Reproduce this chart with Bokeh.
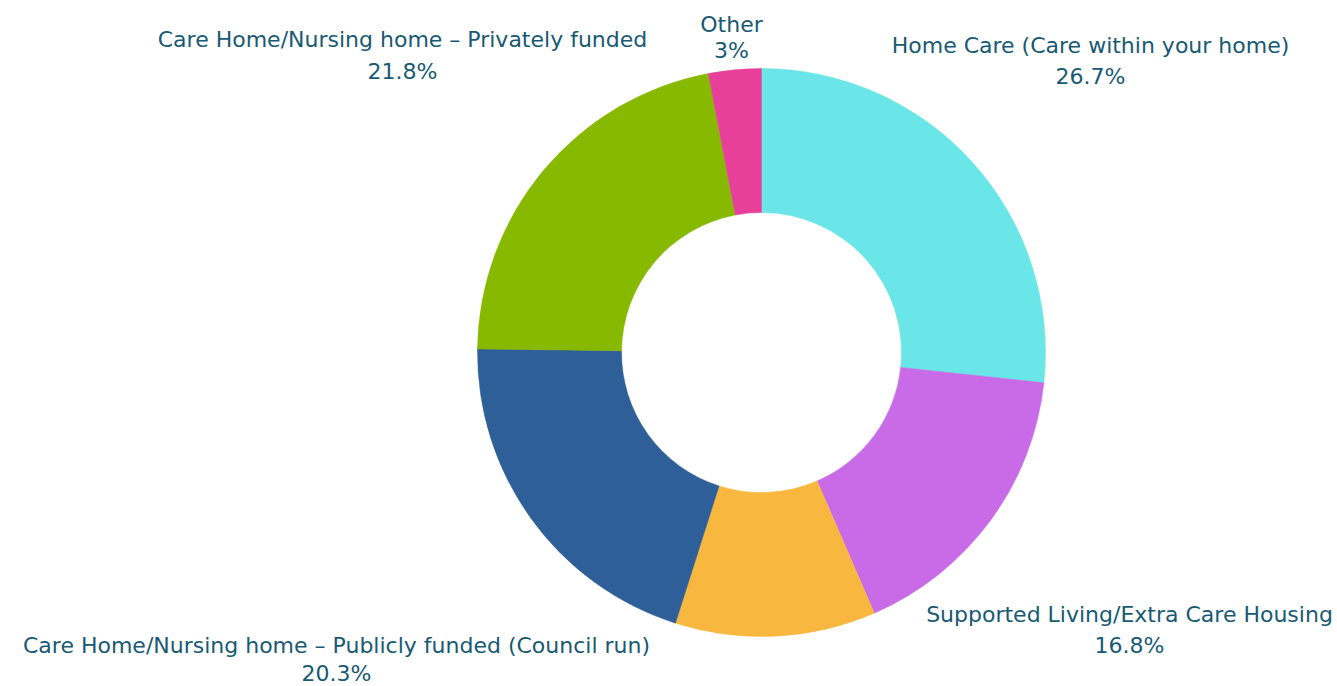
import math
from bokeh.plotting import figure
from bokeh.embed import file_html
from bokeh.resources import INLINE
from bokeh.models import ColumnDataSource
from bokeh.core.properties import value

# ---- data ----
categories = [
    "Home Care (Care within your home)",
    "Supported Living/Extra Care Housing",
    "Care Home/Nursing home \u2013 Other",
    "Care Home/Nursing home \u2013 Publicly funded (Council run)",
    "Care Home/Nursing home \u2013 Privately funded",
    "Other",
]
shares = [26.7, 16.8, 11.4, 20.3, 21.8, 3.0]
colors = ["#6ae5e8", "#c96be6", "#f8b83f", "#2e5f98", "#87b900", "#e8409a"]
show_label = [True, True, False, True, True, True]
pct_labels = ["26.7%", "16.8%", "", "20.3%", "21.8%", "3%"]

# label anchor positions (pixels relative to donut centre, y up)
label_x = [329, 368, 0, -425, -359, -30]
label_y = [307, -262, 0, -293, 313, 328]
line_gap = [31, 31, 0, 28, 32, 26]

W, H = 1337, 686
cx, cy = 761, 352  # donut centre in plot pixels from top-left
R_OUT, R_IN = 284, 140

total = sum(shares)
starts, ends = [], []
a = math.pi / 2
for s in shares:
    b = a - 2 * math.pi * s / total
    starts.append(b)
    ends.append(a)
    a = b

src = ColumnDataSource(dict(start=starts, end=ends, color=colors, cat=categories))

p = figure(width=W, height=H, x_range=(-cx, W - cx), y_range=(-(H - cy), cy),
           output_backend="svg", toolbar_location=None, min_border=0,
           outline_line_color=None, background_fill_color="white")
p.axis.visible = False
p.grid.visible = False

p.annular_wedge(x=0, y=0, inner_radius=R_IN, outer_radius=R_OUT,
                start_angle="start", end_angle="end", direction="anticlock",
                fill_color="color", line_color="color", line_width=0.5, source=src)

lx, ly1, ly2, t1, t2 = [], [], [], [], []
for i, c in enumerate(categories):
    if not show_label[i]:
        continue
    lx.append(label_x[i])
    ly1.append(label_y[i])
    ly2.append(label_y[i] - line_gap[i])
    t1.append(c)
    t2.append(pct_labels[i])

font = value("DejaVu Sans")
p.text(x=lx, y=ly1, text=t1, text_align="center", text_baseline="middle",
       text_font=font, text_font_size="22px", text_color="#185a73")
p.text(x=lx, y=ly2, text=t2, text_align="center", text_baseline="middle",
       text_font=font, text_font_size="22px", text_color="#185a73")

open("out.html", "w").write(file_html(p, INLINE))
